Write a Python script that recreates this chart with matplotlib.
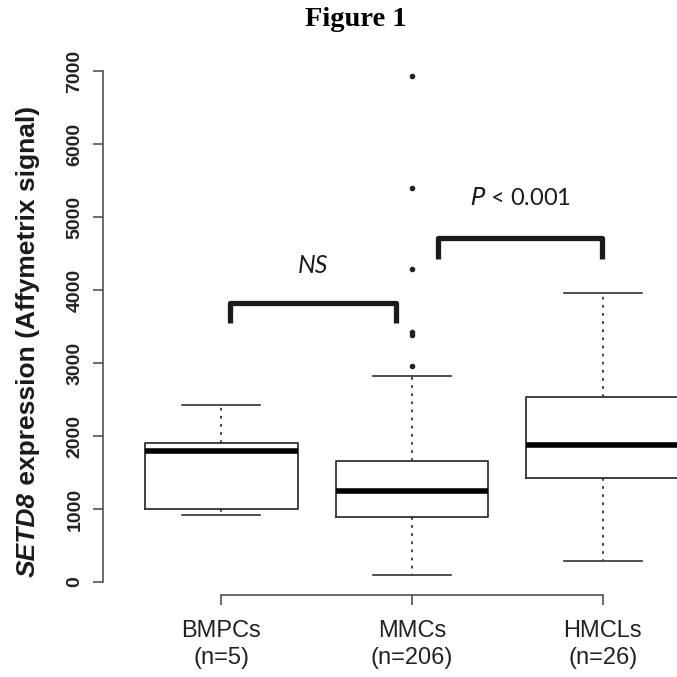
import matplotlib
matplotlib.use("Agg")
import matplotlib.pyplot as plt

# values (Affymetrix signal)
groups = ["BMPCs", "MMCs", "HMCLs"]
counts = [5, 206, 26]
medians = [1795, 1251, 1877]
q1 = [1000, 895, 1420]
q3 = [1904, 1662, 2538]
whisk_lo = [918, 96, 288]
whisk_hi = [2425, 2822, 3954]
outliers = [[], [2960, 3390, 3420, 4290, 5400, 6930], []]
yticks = [0, 1000, 2000, 3000, 4000, 5000, 6000, 7000]

stats = []
for i, g in enumerate(groups):
    stats.append(dict(label=g, med=medians[i], q1=q1[i], q3=q3[i],
                      whislo=whisk_lo[i], whishi=whisk_hi[i],
                      fliers=outliers[i]))

fig = plt.figure(figsize=(6.77, 6.77), dpi=100)
ax = fig.add_axes([0.1521, 0.1211, 0.8479, 0.8198])

edge = "#333333"
ax.bxp(stats, positions=[1, 2, 3], widths=0.8, capwidths=0.41,
       showfliers=True,
       boxprops=dict(color=edge, linewidth=1.3),
       medianprops=dict(color="black", linewidth=4, solid_capstyle="butt"),
       whiskerprops=dict(color=edge, linewidth=1.3, linestyle=(0, (1.5, 3))),
       capprops=dict(color=edge, linewidth=1.2),
       flierprops=dict(marker="o", markersize=3, markerfacecolor="#222222",
                       markeredgecolor="#222222"))

ax.set_xlim(0.379, 3.39)
ax.set_ylim(-178, 7425)

for s in ["top", "right"]:
    ax.spines[s].set_visible(False)
ax.spines["left"].set_bounds(0, 7000)
ax.spines["bottom"].set_bounds(1, 3)
for s in ["left", "bottom"]:
    ax.spines[s].set_color("#444444")
    ax.spines[s].set_linewidth(1.1)

ax.set_yticks(yticks)
ax.set_yticklabels([str(v) for v in yticks], rotation=90, va="center",
                   fontsize=14, fontweight="bold", family="Liberation Sans",
                   color="#222222")
ax.tick_params(axis="y", length=7, width=1.1, color="#444444", pad=7)

ax.set_xticks([1, 2, 3])
ax.set_xticklabels([f"{g}\n(n={n})" for g, n in zip(groups, counts)],
                   fontsize=17, family="Liberation Sans", color="#222222",
                   linespacing=1.3)
ax.tick_params(axis="x", length=7, width=1.1, color="#444444", pad=11)

# significance brackets
def bracket(x0, x1, ytop, ybot):
    ax.plot([x0, x0, x1, x1], [ybot, ytop, ytop, ybot], color="#1a1a1a",
            lw=3.8, solid_joinstyle="round", solid_capstyle="butt",
            clip_on=False)

bracket(1.047, 1.916, 3822, 3548)
bracket(2.137, 2.995, 4712, 4425)
ax.text(1.479, 4342, "NS", style="italic", family="Lato", fontsize=18,
        ha="center", va="center", color="#1a1a1a")
ax.text(2.568, 5260, "$\\mathit{P}$ < 0.001", family="Lato", fontsize=17,
        ha="center", va="center", color="#1a1a1a")

# y label: italic gene name followed by plain bold text
t1 = fig.text(28 / 677, 1 - 577 / 677, "SETD8", rotation=90, fontsize=19,
              fontweight="bold", style="italic", family="Liberation Sans",
              ha="center", va="bottom", color="#1a1a1a")
ax.annotate(" expression (Affymetrix signal)", xy=(0.5, 1), xycoords=t1,
            rotation=90, fontsize=19, fontweight="bold",
            family="Liberation Sans", ha="center", va="bottom",
            color="#1a1a1a", annotation_clip=False)

fig.text(356 / 677, 1 - 19 / 677, "Figure 1", family="Liberation Serif",
         fontweight="bold", fontsize=20.5, ha="center", va="center")

plt.savefig("out.png", dpi=100)
